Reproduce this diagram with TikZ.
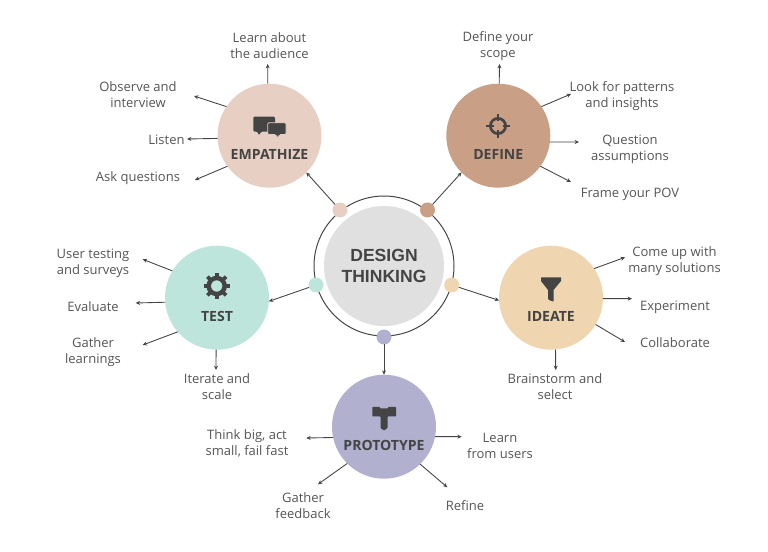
\documentclass[tikz,border=0pt]{standalone}
\usepackage{fontspec}
\usepackage{xcolor}
\usepackage{tikz}
\usetikzlibrary{arrows.meta,positioning}
\setmainfont{Open Sans}[Ligatures=NoCommon]
\newfontfamily\headfont{Liberation Sans}
\definecolor{ink}{RGB}{68,68,68}
\definecolor{lblgrey}{RGB}{85,85,85}
\definecolor{coreg}{RGB}{224,224,224}
\definecolor{empc}{RGB}{232,207,195}
\definecolor{defc}{RGB}{201,160,134}
\definecolor{ideac}{RGB}{239,213,176}
\definecolor{testc}{RGB}{190,229,219}
\definecolor{protoc}{RGB}{177,176,207}
\tikzset{
  stage/.style={circle,draw=none,minimum size=31.2mm,inner sep=0pt,outer sep=0pt},
  dot/.style={circle,draw=none,minimum size=4.5mm,inner sep=0pt,outer sep=0pt},
  ttl/.style={font=\bfseries\fontsize{12}{14}\selectfont,text=ink,inner sep=0pt},
  lbl/.style={font=\fontsize{11.1}{13.6}\selectfont,text=lblgrey,align=center,inner sep=0pt},
  flow/.style={-{Stealth[length=1.3mm,width=1.2mm]},draw=ink,line width=0.75pt},
  icon/.style={fill=ink,draw=none},
}

\begin{document}
\begin{tikzpicture}[x=0.3mm,y=-0.3mm]
  \useasboundingbox (0,0) rectangle (768,552);

  % centre with its ring
  \draw[ink,line width=0.85pt] (384,266) circle (70);
  \node[circle,fill=coreg,minimum size=36mm,inner sep=0pt,align=center,text=ink,
        font=\headfont\bfseries\fontsize{15}{17.2}\selectfont] (core) at (384,266)
        {DESIGN\\THINKING};

  \node[dot,fill=empc]   (dotemp)   at (340,210) {};
  \node[dot,fill=defc]   (dotdef)   at (427.5,210) {};
  \node[dot,fill=ideac]  (dotidea)  at (451.7,285) {};
  \node[dot,fill=testc]  (dottest)  at (316,285) {};
  \node[dot,fill=protoc] (dotproto) at (384,337) {};

  \node[stage,fill=empc]   (emp)   at (269.5,135.7) {};
  \node[stage,fill=defc]   (def)   at (498.3,135.7) {};
  \node[stage,fill=ideac]  (idea)  at (551,297.7) {};
  \node[stage,fill=testc]  (test)  at (217,297.7) {};
  \node[stage,fill=protoc] (proto) at (384,426.7) {};

  \node[ttl] (temp)   at (269.5,154.5) {EMPATHIZE};
  \node[ttl] (tdef)   at (498.3,154.5) {DEFINE};
  \node[ttl] (tidea)  at (551,316.5) {IDEATE};
  \node[ttl] (ttest)  at (217,316.5) {TEST};
  \node[ttl] (tproto) at (384,445.5) {PROTOTYPE};

  % speech bubbles
  \fill[icon,rounded corners=1pt] (253.3,116.7) -- (275,116.7) -- (275,131.7) -- (261,131.7)
        -- (259,135.5) -- (257.5,131.7) -- (253.3,131.7) -- cycle;
  \fill[icon,rounded corners=1pt,draw=empc,line width=0.6pt] (267.7,122.8) -- (286,122.8) -- (286,134.5) -- (279.5,134.5)
        -- (278,138) -- (275.5,134.5) -- (267.7,134.5) -- cycle;

  % crosshair
  \draw[ink,line width=2.3pt] (498,126) circle (7.6);
  \foreach \a in {0,90,180,270}
    \draw[ink,line width=2.4pt] (498,126) ++(\a:4.5) -- ++(\a:7.4);

  % gear
  \draw[ink,line width=3.8pt] (216.7,286) circle (8);
  \foreach \a in {0,45,...,315}
    \draw[ink,line width=3.2pt] (216.7,286) ++(\a:9) -- ++(\a:4.2);

  % funnel
  \fill[icon] (541,277.5) -- (561,277.5) -- (561,281) -- (553.5,290) -- (553.5,301.5)
        -- (550,300.5) -- (548,299) -- (548,290) -- (541,281) -- cycle;

  % hammer
  \fill[icon,rounded corners=0.5pt] (372.3,407) -- (380,407) -- (380,408.5) -- (388,408.5) -- (388,407)
        -- (396,407) -- (396,416.5) -- (387.5,416.5) -- (387.5,428) -- (384,430.5) -- (380.5,428)
        -- (380.5,416.5) -- (372.3,416.5) -- cycle;

  % from the ring out to the stages
  \draw[flow] (dotemp)   -- (emp.-45);
  \draw[flow] (dotdef)   -- (def.-135);
  \draw[flow] (dotidea)  -- (idea.183);
  \draw[flow] (dottest)  -- (test.-4);
  \draw[flow] (dotproto) -- (proto.90);

  % empathize
  \coordinate (e1) at (267.7,64);
  \coordinate (e2) at (194,96);
  \coordinate (e3) at (187,139);
  \coordinate (e4) at (195,180);
  \draw[flow] (emp.92)    -- (e1);
  \draw[flow] (emp.146.8) -- (e2);
  \draw[flow] (emp.183.6) -- (e3);
  \draw[flow] (emp.216.8) -- (e4);
  \node[lbl] (l1) at (269.5,46) {Learn about\\the audience};
  \node[lbl] (l2) at (138,94.5) {Observe and\\interview};
  \node[lbl] (l3) at (166.5,139.5) {Listen};
  \node[lbl] (l4) at (138,178.5) {Ask questions};

  % define
  \coordinate (d1) at (499.5,64);
  \coordinate (d2) at (571,94);
  \coordinate (d3) at (579,142);
  \coordinate (d4) at (571,182);
  \draw[flow] (def.89)    -- (d1);
  \draw[flow] (def.34.4)  -- (d2);
  \draw[flow] (def.-7)    -- (d3);
  \draw[flow] (def.-36)   -- (d4);
  \node[lbl] (l5) at (498,46) {Define your\\scope};
  \node[lbl] (l6) at (622,96) {Look for patterns\\and insights};
  \node[lbl] (l7) at (630,149.5) {Question\\assumptions};
  \node[lbl] (l8) at (630,194.5) {Frame your POV};

  % ideate
  \coordinate (i1) at (625,257.3);
  \coordinate (i2) at (632,298.7);
  \coordinate (i3) at (625,342);
  \coordinate (i4) at (555.7,370);
  \draw[flow] (idea.34.6)  -- (i1);
  \draw[flow] (idea.-1)    -- (i2);
  \draw[flow] (idea.-31.8) -- (i3);
  \draw[flow] (idea.-85)   -- (i4);
  \node[lbl] (l9) at (674.5,261.5) {Come up with\\many solutions};
  \node[lbl] (l10) at (675,307.5) {Experiment};
  \node[lbl] (l11) at (675,342.5) {Collaborate};
  \node[lbl] (l12) at (555,386.5) {Brainstorm and\\select};

  % test
  \coordinate (t1) at (142.7,259.3);
  \coordinate (t2) at (135.7,303);
  \coordinate (t3) at (142.7,345);
  \coordinate (t4) at (216,370);
  \draw[flow] (test.149.6) -- (t1);
  \draw[flow] (test.185.8) -- (t2);
  \draw[flow] (test.221)   -- (t3);
  \draw[flow] (test.-91)   -- (t4);
  \node[lbl] (l13) at (93,263.5) {User testing\\and surveys};
  \node[lbl] (l14) at (93,306.5) {Evaluate};
  \node[lbl] (l15) at (93,352) {Gather\\learnings};
  \node[lbl] (l16) at (217,386.5) {Iterate and\\scale};

  % prototype
  \coordinate (p1) at (306.3,438);
  \coordinate (p2) at (461.7,436.7);
  \coordinate (p3) at (318,484.3);
  \coordinate (p4) at (447.3,487.3);
  \draw[flow] (proto.192.4) -- (p1);
  \draw[flow] (proto.-11)   -- (p2);
  \draw[flow] (proto.225)   -- (p3);
  \draw[flow] (proto.-46.8) -- (p4);
  \node[lbl] (l17) at (247,443.5) {Think big, act\\small, fail fast};
  \node[lbl] (l18) at (500,445.5) {Learn\\from users};
  \node[lbl] (l19) at (303,505.5) {Gather\\feedback};
  \node[lbl] (l20) at (465,505.5) {Refine};
\end{tikzpicture}
\end{document}
